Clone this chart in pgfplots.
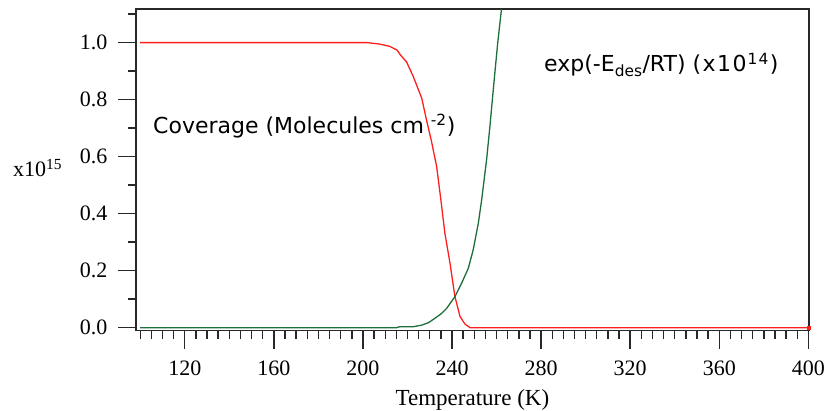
\documentclass[border=0pt]{standalone}
\usepackage{pgfplots}
\pgfplotsset{compat=1.18}
\usepackage{fontspec}
\setmainfont{Liberation Serif}
\newfontfamily\vfont{DejaVu Sans}
\definecolor{covRed}{RGB}{255,30,30}
\definecolor{expGreen}{RGB}{30,110,60}
\definecolor{axLine}{RGB}{40,40,40}
\begin{document}
\begin{tikzpicture}
  \begin{axis}[
    at={(0,0)}, anchor=south west,
    scale only axis,
    width=672.8pt, height=321.7pt,
    xmin=98.1, xmax=400.2,
    ymin=-0.0105, ymax=1.118,
    axis lines=box,
    axis line style={axLine, line width=1.4pt},
    xtick={120,160,...,400},
    minor xtick={100,105,...,400},
    ytick={0,0.2,0.4,0.6,0.8,1.0},
    minor ytick={0.1,0.3,0.5,0.7,0.9,1.1},
    xtick pos=left, ytick pos=left,
    tick align=outside,
    major tick length=18pt,
    minor tick length=8pt,
    every tick/.style={axLine, line width=1.4pt},
    /pgf/number format/assume math mode=true,
    tick label style={font=\fontsize{22}{26}\selectfont},
    yticklabel style={xshift=-7pt, /pgf/number format/.cd, fixed, fixed zerofill, precision=1},
    xticklabel style={yshift=-9pt, /pgf/number format/.cd, fixed, precision=0},
    xlabel={Temperature (K)},
    xlabel style={font=\fontsize{23}{27}\selectfont, yshift=-7pt},
  ]
    % coverage
    \addplot[covRed, line width=1.3pt] coordinates {
      (100,1.0) (202,1.0) (207.5,0.995) (212,0.987) (215.3,0.974)
      (216.8,0.957) (219.6,0.932) (222.6,0.881) (226.4,0.805)
      (228.5,0.73) (230.8,0.653) (233.1,0.565) (235.0,0.448)
      (236.8,0.331) (239.1,0.226) (241.3,0.109) (243.6,0.039)
      (245.8,0.013) (248.1,0.0) (400,0.0)
    };
    \addplot[covRed, only marks, mark=square*, mark size=1.6pt] coordinates {(400,0.0)};
    % exp(-Edes/RT)
    \addplot[expGreen, line width=1.3pt] coordinates {
      (100,0.0) (215,0.0) (216.6,0.0035) (222.6,0.0035) (226.4,0.009)
      (229.5,0.018) (232.3,0.033) (235.0,0.048) (237.6,0.068)
      (241.3,0.109) (244.3,0.156) (247.3,0.208) (249.5,0.273)
      (251.8,0.366) (253.3,0.448) (255.5,0.588) (257.0,0.705)
      (258.8,0.858) (260.5,0.998) (262.0,1.103) (262.2,1.118)
    };
  \end{axis}
  \node[anchor=base west, inner sep=0pt]
    at (17pt,197.4pt) {\vfont\fontsize{22}{26}\selectfont Coverage (Molecules cm \textsuperscript{-2})};
  \node[anchor=base west, inner sep=0pt]
    at (408pt,258.7pt) {\vfont\fontsize{22}{26}\selectfont exp(-E\textsubscript{des}/RT) (\kern1.5pt x\kern1.5pt 1\kern1.5pt 0\kern1pt\textsuperscript{1\kern1pt 4}\kern1pt)};
  \node[anchor=base west, inner sep=0pt]
    at (-123pt,154pt) {\fontsize{22}{26}\selectfont x10\textsuperscript{15}};
  \pgfresetboundingbox
  \path[use as bounding box] (-136pt,-80.3pt) rectangle (691pt,330.7pt);
\end{tikzpicture}
\end{document}
